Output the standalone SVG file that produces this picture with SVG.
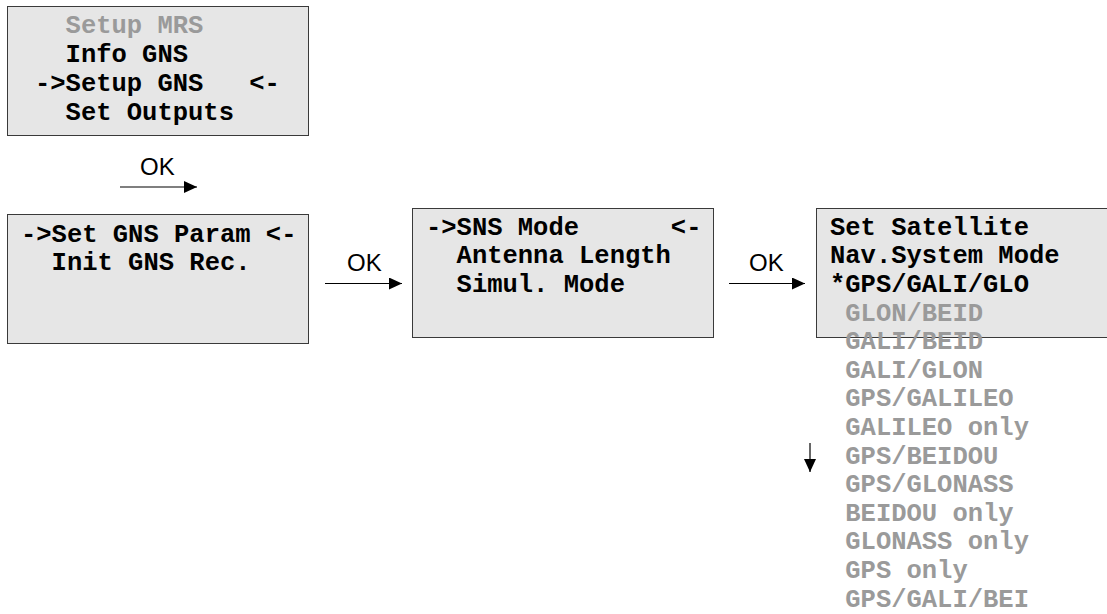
<svg xmlns="http://www.w3.org/2000/svg" width="1107" height="614" viewBox="0 0 1107 614">
<style>
.box{fill:#e6e6e6;stroke:#3a3a3a;stroke-width:1}
.t{font-family:"Liberation Mono","Courier New",monospace;font-weight:bold;font-size:25.5px;fill:#000;white-space:pre}
.g{fill:#9a9a9a}
.ok{font-family:"Liberation Sans",Arial,sans-serif;font-size:24px;fill:#000}
.ln{stroke:#000;stroke-width:1.2;fill:none}
</style>
<defs>
<marker id="ah" markerUnits="userSpaceOnUse" markerWidth="14" markerHeight="12" refX="13" refY="6" orient="auto">
<path d="M0,0 L13,6 L0,12 Z" fill="#000"/>
</marker>
</defs>
<g id="node-main-menu">
<rect class="box" x="7.5" y="6.5" width="301" height="129"/>
<text class="t g" x="35" y="33">  Setup MRS</text>
<text class="t" x="35" y="62">  Info GNS</text>
<text class="t" x="35" y="91">-&gt;Setup GNS   &lt;-</text>
<text class="t" x="35" y="120">  Set Outputs</text>
</g>
<g id="node-setup-gns">
<rect class="box" x="7.5" y="214.5" width="301" height="129"/>
<text class="t" x="21" y="242">-&gt;Set GNS Param &lt;-</text>
<text class="t" x="21" y="270">  Init GNS Rec.</text>
</g>
<g id="node-set-gns-param">
<rect class="box" x="412.5" y="208.5" width="301" height="129"/>
<text class="t" x="426" y="235">-&gt;SNS Mode      &lt;-</text>
<text class="t" x="426" y="263">  Antenna Length</text>
<text class="t" x="426" y="292">  Simul. Mode</text>
</g>
<g id="node-sns-mode">
<rect class="box" x="816.5" y="208.5" width="300" height="129"/>
<text class="t" x="830" y="235">Set Satellite</text>
<text class="t" x="830" y="263">Nav.System Mode</text>
<text class="t" x="830" y="292">*GPS/GALI/GLO</text>
<text class="t g" x="830" y="320.6"> GLON/BEID</text>
<text class="t g" x="830" y="349.2"> GALI/BEID</text>
<text class="t g" x="830" y="377.8"> GALI/GLON</text>
<text class="t g" x="830" y="406.4"> GPS/GALILEO</text>
<text class="t g" x="830" y="435"> GALILEO only</text>
<text class="t g" x="830" y="463.6"> GPS/BEIDOU</text>
<text class="t g" x="830" y="492.2"> GPS/GLONASS</text>
<text class="t g" x="830" y="520.8"> BEIDOU only</text>
<text class="t g" x="830" y="549.4"> GLONASS only</text>
<text class="t g" x="830" y="578"> GPS only</text>
<text class="t g" x="830" y="606.6"> GPS/GALI/BEI</text>
</g>
<g id="connectors">
<line class="ln" x1="120" y1="187" x2="197" y2="187" marker-end="url(#ah)"/>
<text class="ok" x="140" y="175">OK</text>
<line class="ln" x1="325" y1="283.5" x2="402" y2="283.5" marker-end="url(#ah)"/>
<text class="ok" x="347" y="271">OK</text>
<line class="ln" x1="729" y1="283.5" x2="805" y2="283.5" marker-end="url(#ah)"/>
<text class="ok" x="749" y="271">OK</text>
<line class="ln" x1="810" y1="443" x2="810" y2="472" marker-end="url(#ah)"/>
</g>
</svg>
